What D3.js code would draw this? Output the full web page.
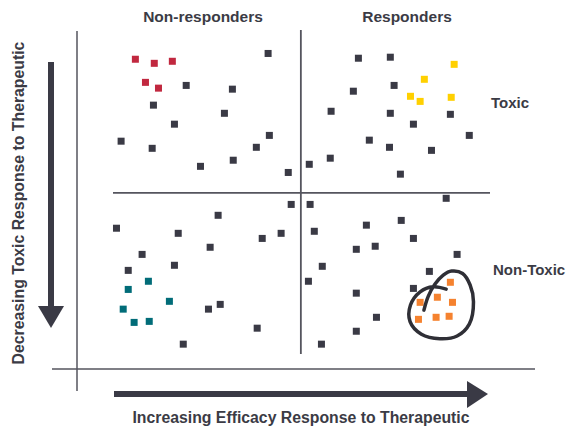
<!DOCTYPE html>
<html>
<head>
  <meta charset="utf-8">
  <script src="https://cdn.jsdelivr.net/npm/d3@7"></script>
  <style>
    body { margin: 0; background: #fff; }
    text { font-family: "Liberation Sans", Arial, sans-serif; font-weight: bold; fill: #3b3b45; }
  </style>
</head>
<body>
<svg id="chart" width="568" height="429"></svg>
<script>
// efficacy (x) and toxicity (y) scores, 0-100
var greyPoints = [
  [45.5, 93.1], [26.0, 83.7], [37.0, 82.6], [18.2, 77.9], [35.1, 75.5], [23.2, 72.3],
  [10.5, 67.3], [17.9, 65.2], [45.8, 69.0], [42.7, 65.5], [37.2, 61.7], [29.4, 59.9], [50.3, 58.1],
  [67.0, 91.7], [74.6, 92.0], [75.5, 83.7], [65.8, 82.0], [60.5, 76.1], [74.6, 75.5],
  [88.9, 75.2], [80.1, 72.3], [93.4, 69.0], [69.6, 67.6], [74.4, 65.5], [84.4, 64.6],
  [60.3, 62.3], [55.3, 60.5], [77.0, 57.6],
  [51.0, 48.7], [33.6, 45.5], [9.4, 41.7], [24.1, 40.2], [44.1, 38.7], [48.6, 40.2],
  [31.7, 36.1], [15.5, 34.0], [23.2, 30.8], [12.2, 29.3], [34.1, 19.3], [31.3, 17.9],
  [42.9, 12.3], [25.3, 7.6],
  [55.5, 48.7], [87.9, 50.5], [68.9, 42.6], [77.2, 44.0], [56.5, 40.8], [80.1, 38.7],
  [66.5, 35.5], [71.0, 36.4], [90.5, 34.0], [58.4, 30.5], [83.9, 29.0], [55.1, 26.1],
  [80.1, 24.0], [66.5, 22.6], [71.3, 15.5], [66.5, 11.4], [58.2, 7.6]
];
var redPoints = [[13.9, 91.4], [18.4, 90.2], [22.7, 90.8], [16.3, 84.6], [19.4, 82.9]];
var yellowPoints = [[89.8, 89.9], [82.7, 85.5], [79.4, 80.5], [81.7, 79.0], [89.1, 80.2]];
var tealPoints = [[17.0, 26.1], [12.2, 23.7], [22.0, 20.2], [11.0, 17.9], [13.6, 14.0], [17.2, 14.3]];
var orangePoints = [[88.9, 25.8], [85.8, 21.4], [81.7, 19.9], [89.4, 19.9], [81.3, 14.9], [85.5, 15.5], [88.6, 15.8]];

// hand drawn lasso round the orange group
var lasso = [
  [82.6, 17.6], [83.6, 21.6], [85.2, 25.2], [87.2, 27.9], [89.2, 29.1], [91.8, 28.4],
  [93.6, 25.0], [94.4, 20.1], [93.4, 13.5], [90.5, 10.0], [86.4, 9.2], [82.0, 10.5],
  [79.3, 14.2], [79.4, 19.1], [81.7, 23.0], [84.8, 24.5], [87.9, 23.8]
];

var efficacyCut = 53.3;
var toxicityCut = 52.1;

var columnLabels = ["Non-responders", "Responders"];
var rowLabels = ["Toxic", "Non-Toxic"];

var svg = d3.select("#chart");
var x = d3.scaleLinear().domain([0, 100]).range([77, 497]);
var y = d3.scaleLinear().domain([0, 100]).range([370, 30]);

var ink = "#3a3a45";
var lineCol = "#55555e";

// main axes
svg.append("line").attr("x1", x(0)).attr("x2", x(0)).attr("y1", 31).attr("y2", 391)
  .attr("stroke", lineCol).attr("stroke-width", 1.5);
svg.append("line").attr("x1", 52).attr("x2", 535).attr("y1", y(0) - 1).attr("y2", y(0) - 1)
  .attr("stroke", lineCol).attr("stroke-width", 1.5);

// quadrant dividers
svg.append("line").attr("x1", x(efficacyCut)).attr("x2", x(efficacyCut)).attr("y1", y(100)).attr("y2", 354)
  .attr("stroke", lineCol).attr("stroke-width", 1.8);
svg.append("line").attr("x1", 113).attr("x2", 490).attr("y1", y(toxicityCut)).attr("y2", y(toxicityCut))
  .attr("stroke", lineCol).attr("stroke-width", 1.8);

// arrows
svg.append("rect").attr("x", 48).attr("y", 62).attr("width", 6).attr("height", 246).attr("fill", ink);
svg.append("path").attr("d", "M38,306 L64,306 L51,328 Z").attr("fill", ink);
svg.append("rect").attr("x", 114).attr("y", 391).attr("width", 356).attr("height", 6).attr("fill", ink);
svg.append("path").attr("d", "M467,381 L488,394 L467,408 Z").attr("fill", ink);

// points
function drawSquares(data, colour) {
  svg.append("g").selectAll("rect").data(data).join("rect")
    .attr("x", function(d) { return x(d[0]) - 3.5; })
    .attr("y", function(d) { return y(d[1]) - 3.5; })
    .attr("width", 7).attr("height", 7)
    .attr("fill", colour);
}
drawSquares(greyPoints, ink);
drawSquares(redPoints, "#c1283f");
drawSquares(yellowPoints, "#ffd000");
drawSquares(tealPoints, "#016c78");
drawSquares(orangePoints, "#f5822f");

var lassoLine = d3.line()
  .x(function(d) { return x(d[0]); })
  .y(function(d) { return y(d[1]); })
  .curve(d3.curveCatmullRom);
svg.append("path").attr("d", lassoLine(lasso))
  .attr("fill", "none").attr("stroke", "#2f2f36").attr("stroke-width", 3.5)
  .attr("stroke-linecap", "round");

// labels
svg.selectAll(".col").data(columnLabels).join("text")
  .attr("x", function(d, i) { return i === 0 ? 203 : 407; })
  .attr("y", 22).attr("text-anchor", "middle").style("font-size", "15.5px").text(function(d) { return d; });
svg.selectAll(".row").data(rowLabels).join("text")
  .attr("x", function(d, i) { return i === 0 ? 491 : 493; })
  .attr("y", function(d, i) { return i === 0 ? 108 : 275; })
  .style("font-size", "15px").text(function(d) { return d; });

svg.append("text").attr("x", 301).attr("y", 423).attr("text-anchor", "middle")
  .style("font-size", "15.8px").text("Increasing Efficacy Response to Therapeutic");
svg.append("text").attr("transform", "translate(24,203) rotate(-90)").attr("text-anchor", "middle")
  .style("font-size", "15.8px").text("Decreasing Toxic Response to Therapeutic");
</script>
</body>
</html>
